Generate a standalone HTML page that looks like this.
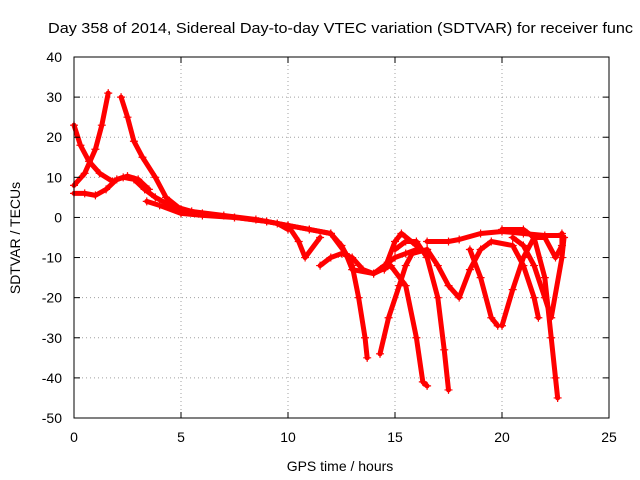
<!DOCTYPE html>
<html><head><meta charset="utf-8"><style>
body{margin:0;background:#fff;}
svg{display:block;font-family:"Liberation Sans",sans-serif;}
</style></head><body>
<svg id="chart" width="640" height="480">
<rect width="640" height="480" fill="#fff"/>
<text x="48" y="33" font-size="15" textLength="585" lengthAdjust="spacingAndGlyphs" fill="#000">Day 358 of 2014, Sidereal Day-to-day VTEC variation (SDTVAR) for receiver func</text>
<g id="grid"></g>
<g id="series"></g>
<rect x="74" y="57" width="535" height="361" fill="none" stroke="#000" stroke-width="1"/>
<g id="axes" font-size="14"></g>
<text x="340" y="471" font-size="14" text-anchor="middle">GPS time / hours</text>
<text transform="translate(20,238) rotate(-90)" font-size="14" text-anchor="middle">SDTVAR / TECUs</text>
</svg>
<script>
const xTicks=[0,5,10,15,20,25];
const yTicks=[40,30,20,10,0,-10,-20,-30,-40,-50];
const track1=[[0,23],[0.3,18],[0.7,14],[1.2,11],[1.8,9],[2.3,10],[2.8,9.5],[3.3,7],[3.8,5],[4.5,3],[5.5,1.5],[7,0.5],[8.5,-0.5],[9.5,-1.5],[10,-3]];
const track2=[[0,8],[0.5,11],[1,17],[1.3,23],[1.6,31]];
const track3=[[0,6],[0.5,6],[1,5.5],[1.5,7],[2,9.5],[2.5,10.3],[3,9.5],[3.5,7]];
const track4=[[2.2,30],[2.5,25],[2.8,19],[3.2,15],[3.8,10],[4.3,5],[5,2],[6,1],[7.5,0],[9,-1],[10,-2],[11,-3],[12,-4]];
const track5=[[3.4,4],[4,3],[5,1],[6,0.5],[7.5,0],[9,-1],[10,-2],[10.5,-6],[10.8,-10],[11.5,-5]];
const track6=[[10,-2],[11,-3],[12,-4],[12.5,-7],[13,-12],[13.3,-20],[13.6,-30],[13.7,-35]];
const track7=[[11.5,-12],[12,-10],[12.5,-9],[13,-10],[13.5,-13],[14,-14],[14.5,-12],[15,-10],[15.5,-9],[16,-8]];
const track8=[[12,-4],[12.7,-9],[13,-13],[14,-14],[14.8,-12],[15.5,-17],[16,-30],[16.3,-41],[16.5,-42]];
const track9=[[14.3,-34],[14.7,-25],[15.2,-17],[15.5,-12],[15.8,-9],[16.5,-8]];
const track10=[[15,-8],[15.5,-6],[16,-6],[16.5,-10],[17,-20],[17.3,-33],[17.5,-43]];
const track11=[[16.5,-6],[17.5,-6],[18,-5.5],[19,-4],[20,-3.5],[21,-4],[22,-4.5],[22.8,-4.5]];
const track12=[[16.5,-8],[17,-12],[17.5,-17],[18,-20],[18.5,-13],[19,-8],[19.5,-6],[20.5,-7],[21,-12],[21.5,-20],[21.7,-25]];
const track13=[[18.5,-8],[19,-15],[19.5,-25],[19.8,-27]];
const track14=[[20,-27],[20.5,-18],[21,-10],[21.5,-5],[22,-5],[22.5,-10],[22.8,-7],[22.8,-4]];
const track15=[[20,-3],[21,-3],[21.5,-5],[22,-15],[22.3,-30],[22.5,-40],[22.6,-45]];
const track16=[[14.5,-13],[15,-6],[15.3,-4],[16,-7]];
const track17=[[20.5,-5],[21,-7],[21.5,-12],[22,-20],[22.3,-25],[22.8,-10],[22.9,-5]];
const tracks=[track1,track2,track3,track4,track5,track6,track7,track8,track9,track10,track11,track12,track13,track14,track15,track16,track17];

const NS="http://www.w3.org/2000/svg";
const X0=74,X1=609,Y0=418,Y1=57;
function sx(v){return X0+(v-0)/(25-0)*(X1-X0);}
function sy(v){return Y0-(v+50)/(90)*(Y0-Y1);}
function mk(tag,attrs,parent){const e=document.createElementNS(NS,tag);for(const k in attrs)e.setAttribute(k,attrs[k]);parent.appendChild(e);return e;}
const grid=document.getElementById('grid'),axes=document.getElementById('axes'),ser=document.getElementById('series');
xTicks.forEach(t=>{
  const x=sx(t);
  if(t>0&&t<25){const g=mk('line',{x1:x,x2:x,y1:Y0,y2:Y1,stroke:'#a0a0a0','stroke-dasharray':'1,3','stroke-width':1},grid);
  
  }
  mk('line',{x1:x,x2:x,y1:Y0,y2:Y0-6,stroke:'#000'},axes);
  mk('line',{x1:x,x2:x,y1:Y1,y2:Y1+6,stroke:'#000'},axes);
  const l=mk('text',{x:x,y:Y0+24,'text-anchor':'middle'},axes);l.textContent=t;
  
  
});
yTicks.forEach(t=>{
  const y=sy(t);
  if(t>-50&&t<40){const g=mk('line',{x1:X0,x2:X1,y1:y,y2:y,stroke:'#a0a0a0','stroke-dasharray':'1,3','stroke-width':1},grid);
  
  }
  mk('line',{x1:X0,x2:X0+6,y1:y,y2:y,stroke:'#000'},axes);
  mk('line',{x1:X1,x2:X1-6,y1:y,y2:y,stroke:'#000'},axes);
  const l=mk('text',{x:X0-12,y:y+5,'text-anchor':'end'},axes);l.textContent=t;
  
  
});
tracks.forEach((tr,i)=>{
  const p=mk('polyline',{points:tr.map(d=>sx(d[0])+','+sy(d[1])).join(' '),fill:'none',stroke:'#f00','stroke-width':5,'stroke-linejoin':'round','stroke-linecap':'round'},ser);
  
  
  tr.forEach(d=>{
    const x=sx(d[0]),y=sy(d[1]);
    const m=mk('path',{d:`M${x-4},${y}H${x+4}M${x},${y-4}V${y+4}`,stroke:'#f00','stroke-width':1.2},ser);
    
    
  });
});
</script>
</body></html>
